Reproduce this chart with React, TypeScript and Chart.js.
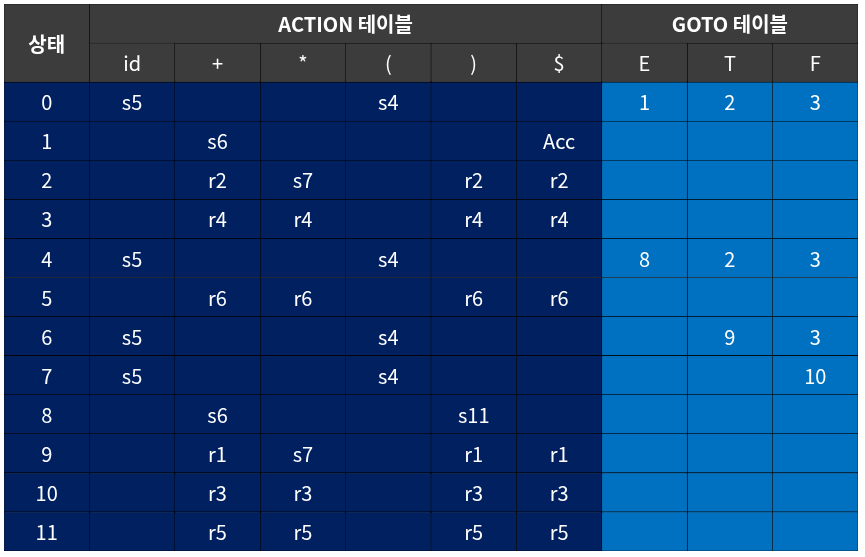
import React, { useEffect, useRef } from "react";
import { Chart, registerables } from "chart.js";
Chart.register(...registerables);

const states = ["0","1","2","3","4","5","6","7","8","9","10","11"];
const actionCols = ["id","+","*","(",")","$"];
const gotoCols = ["E","T","F"];
const actionTable = [
  ["s5","","","s4","",""],
  ["","s6","","","","Acc"],
  ["","r2","s7","","r2","r2"],
  ["","r4","r4","","r4","r4"],
  ["s5","","","s4","",""],
  ["","r6","r6","","r6","r6"],
  ["s5","","","s4","",""],
  ["s5","","","s4","",""],
  ["","s6","","","s11",""],
  ["","r1","s7","","r1","r1"],
  ["","r3","r3","","r3","r3"],
  ["","r5","r5","","r5","r5"],
];
const gotoTable = [
  ["1","2","3"],["","",""],["","",""],["","",""],["8","2","3"],["","",""],
  ["","9","3"],["","","10"],["","",""],["","",""],["","",""],["","",""],
];

const HEAD = "#3c3c3c", ACT = "#002060", GOTO = "#0070c0";
type Cell = { x: [number, number] | null; text: string; bg: string; bold?: boolean; span?: "top" | "bottom" };

export default function App() {
  const ref = useRef<HTMLCanvasElement>(null);
  useEffect(() => {
    document.body.style.margin = "0";
    const rows = ["h1", "h2", ...states];
    // grid[row][col]
    const grid: Cell[][] = rows.map(() => Array.from({ length: 10 }, () => ({ x: null, text: "", bg: HEAD })));
    grid[0][0] = { x: [0, 1], text: "상태", bg: HEAD, bold: true, span: "top" };
    grid[0][1] = { x: [1, 7], text: "ACTION 테이블", bg: HEAD, bold: true };
    grid[0][7] = { x: [7, 10], text: "GOTO 테이블", bg: HEAD, bold: true };
    grid[1][0] = { x: [0, 1], text: "", bg: HEAD, span: "bottom" };
    [...actionCols, ...gotoCols].forEach((c, i) => (grid[1][i + 1] = { x: [i + 1, i + 2], text: c, bg: HEAD }));
    states.forEach((s, r) => {
      grid[r + 2][0] = { x: [0, 1], text: s, bg: ACT };
      actionTable[r].forEach((v, i) => (grid[r + 2][i + 1] = { x: [i + 1, i + 2], text: v, bg: ACT }));
      gotoTable[r].forEach((v, i) => (grid[r + 2][i + 7] = { x: [i + 7, i + 8], text: v, bg: GOTO }));
    });
    const datasets = Array.from({ length: 10 }, (_, c) => ({
      data: rows.map((_, r) => grid[r][c].x) as any,
      grouped: false,
      barPercentage: 1,
      categoryPercentage: 1,
      backgroundColor: rows.map((_, r) => grid[r][c].bg),
      borderColor: "#000",
      borderWidth: rows.map((_, r) => {
        const sp = grid[r][c].span;
        return { top: sp === "bottom" ? 0 : 0.6, bottom: sp === "top" ? 0 : 0.6, left: 0.6, right: 0.6 };
      }) as any,
      borderSkipped: false as any,
    }));
    const textPlugin = {
      id: "cellText",
      afterDatasetsDraw(chart: any) {
        const ctx = chart.ctx;
        ctx.save();
        ctx.fillStyle = "#fff";
        ctx.textAlign = "center";
        ctx.textBaseline = "middle";
        datasets.forEach((_, c) => {
          chart.getDatasetMeta(c).data.forEach((el: any, r: number) => {
            const cell = grid[r][c];
            if (!cell.x || !cell.text) return;
            const { x, base, y, height } = el.getProps(["x", "base", "y", "height"], true);
            ctx.font = `${cell.bold ? "bold " : ""}20px "Noto Sans CJK KR", "Noto Sans", sans-serif`;
            const cy = cell.span === "top" ? y + height / 2 : y;
            ctx.fillText(cell.text, (x + base) / 2, cy + 1);
          });
        });
        ctx.restore();
      },
    };
    const chart = new Chart(ref.current!, {
      type: "bar",
      data: { labels: rows, datasets },
      options: {
        indexAxis: "y",
        animation: false,
        responsive: false,
        layout: { padding: { left: 4, right: 7, top: 4, bottom: 6 } },
        plugins: { legend: { display: false }, tooltip: { enabled: false } },
        scales: {
          x: { type: "linear", min: 0, max: 10, display: false },
          y: { type: "category", display: false },
        },
      },
      plugins: [textPlugin],
    });
    return () => chart.destroy();
  }, []);
  return <canvas ref={ref} width={865} height={557} style={{ display: "block" }} />;
}
